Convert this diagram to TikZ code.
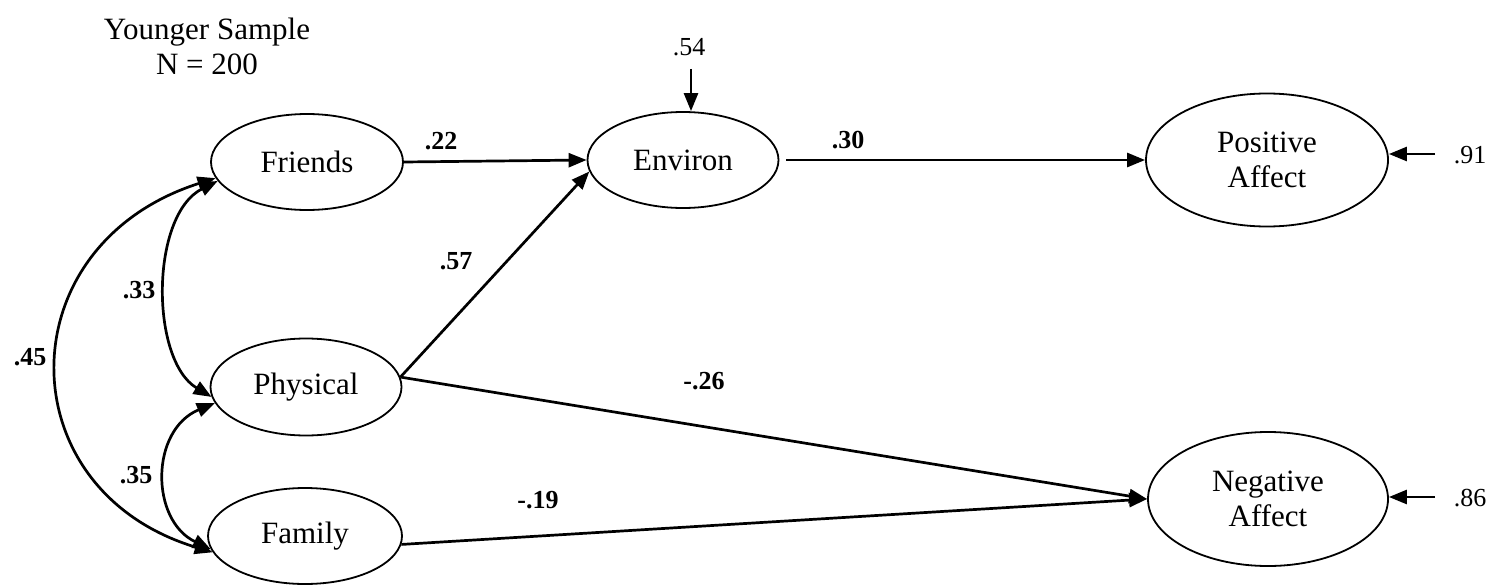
\documentclass[tikz,border=0pt]{standalone}
\usepackage{fontspec}
\setmainfont{Liberation Serif}
\usetikzlibrary{shapes.geometric,arrows.meta}
\begin{document}
\begin{tikzpicture}[x=1pt,y=-1pt,
  latent/.style={draw,ellipse,line width=1.8pt,inner sep=0pt,font=\fontsize{31}{35}\selectfont,align=center},
  path/.style={line width=2.7pt,-{Triangle[length=18pt,width=14pt]}},
  cov/.style={line width=2.7pt,{Triangle[length=18pt,width=14pt]}-{Triangle[length=18pt,width=14pt]}},
  coef/.style={font=\fontsize{26}{30}\selectfont\bfseries,inner sep=0pt},
  resid/.style={font=\fontsize{26}{30}\selectfont,inner sep=0pt}]
\useasboundingbox (0,0) rectangle (1496,586);
% title
\node[align=center,font=\fontsize{31}{35}\selectfont,inner sep=0pt] (title) at (207,46) {Younger Sample\\N = 200};
% latent variables
\node[latent,minimum width=192pt,minimum height=96pt] (fr) at (307,162) {Friends};
\node[latent,minimum width=191pt,minimum height=97pt] (ph) at (306,387) {Physical};
\node[latent,minimum width=194pt,minimum height=96pt] (fa) at (305,536) {Family};
\node[latent,minimum width=191pt,minimum height=96pt] (en) at (683,160) {Environ};
\node[latent,minimum width=242pt,minimum height=133pt] (pa) at (1267,160) {Positive\\Affect};
\node[latent,minimum width=240pt,minimum height=134pt] (na) at (1268,499) {Negative\\Affect};
% paths
\draw[path] (fr.east) -- (en.west);
\draw[path,shorten <=7pt] (en.east) -- (pa.west);
\draw[path] (ph.6) -- (en.187);
\draw[path] (ph.6) -- (na.west);
\draw[path] (fa.-5) -- (na.west);
% covariances
\draw[cov] (fr.190) .. controls (6,245) and (6,490) .. (fa.190);
\draw[cov] (fr.192) .. controls (150,215) and (150,360) .. (ph.186);
\draw[cov] (ph.190) .. controls (150,430) and (150,520) .. (fa.188);
% residuals
\coordinate (e54) at (691,69);
\coordinate (p91) at (1435,154);
\coordinate (n86) at (1435,497);
\draw[path] (e54) -- (e54 |- en.north);
\draw[path] (p91) -- (p91 -| pa.east);
\draw[path] (n86) -- (n86 -| na.east);
\node[resid] (l54) at (689,47) {.54};
\node[resid] (l91) at (1470,155) {.91};
\node[resid] (l86) at (1470,498) {.86};
% coefficients
\node[coef] (c22) at (441,141) {.22};
\node[coef] (c30) at (848,140) {.30};
\node[coef] (c57) at (456,261) {.57};
\node[coef] (c26) at (704,381) {-.26};
\node[coef] (c19) at (538,500) {-.19};
\node[coef] (c33) at (139,290) {.33};
\node[coef] (c45) at (30,357) {.45};
\node[coef] (c35) at (136,475) {.35};
\end{tikzpicture}
\end{document}
